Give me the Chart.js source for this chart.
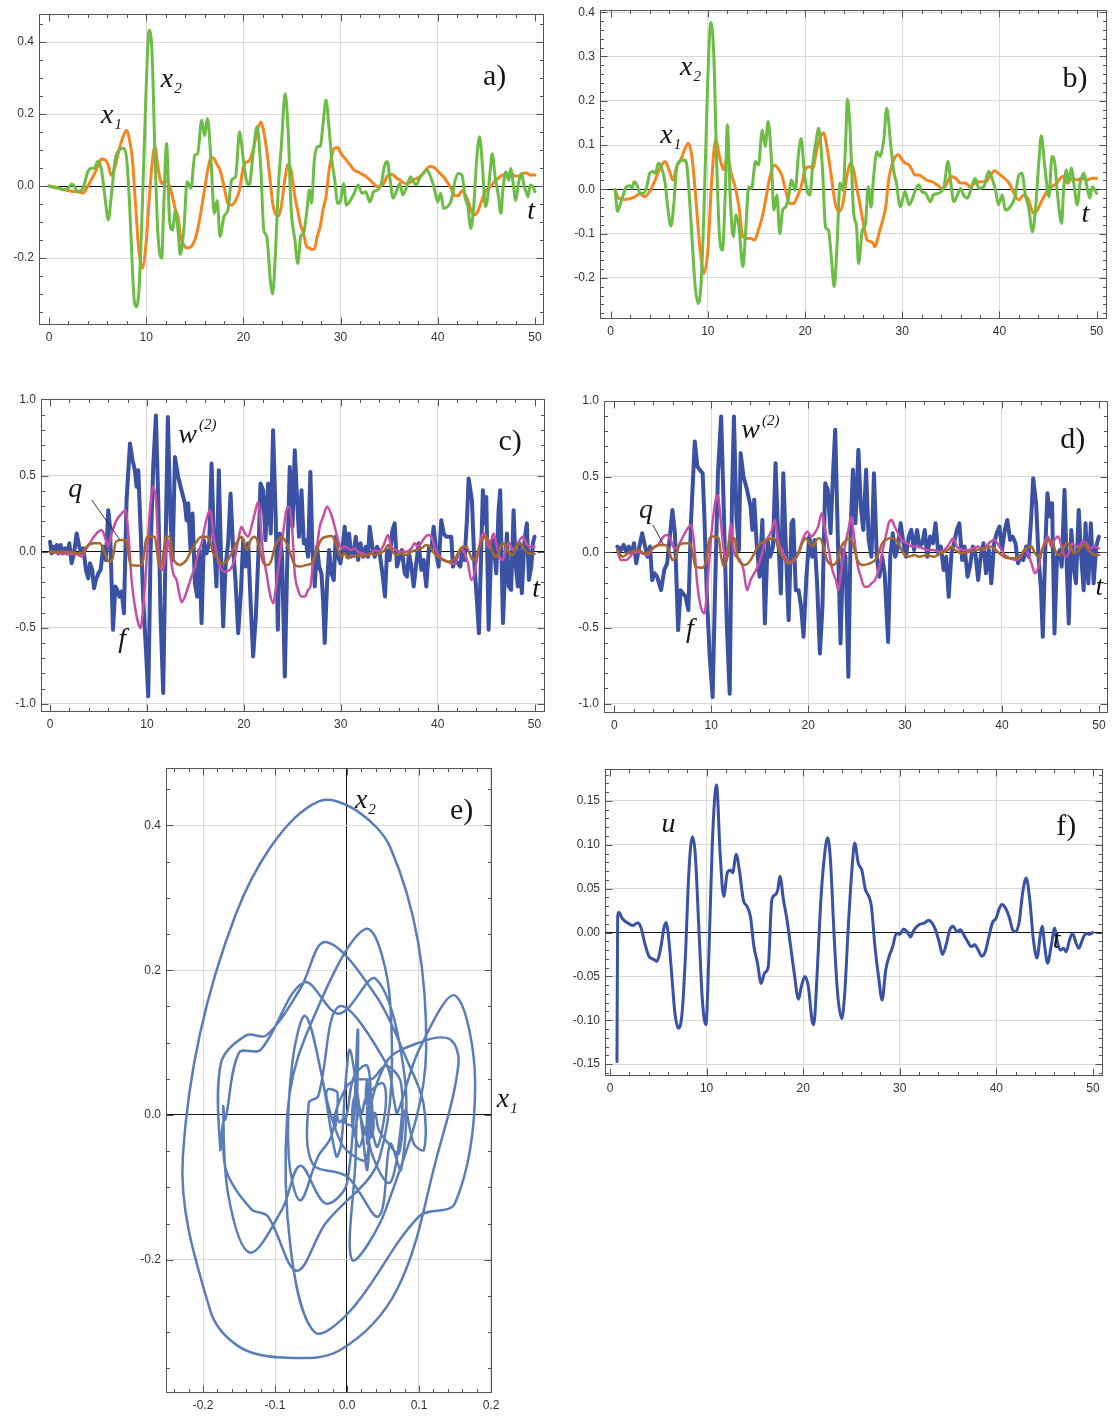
<!DOCTYPE html>
<html><head><meta charset="utf-8">
<script src="https://cdn.jsdelivr.net/npm/chart.js@4.4.0/dist/chart.umd.min.js"></script>
<style>
html,body{margin:0;padding:0;background:#fff;}
body{width:1118px;height:1416px;position:relative;overflow:hidden;}
.p{position:absolute;}
</style></head><body>
<div class="p" id="pa"></div><div class="p" id="pb"></div>
<div class="p" id="pc"></div><div class="p" id="pd"></div>
<div class="p" id="pe"></div><div class="p" id="pf"></div>
<script>
// ---------- DATA ----------
// Panel a (also used for phase portrait e): common time grid
const tA = [0,0.5,1,1.5,2,2.3,2.5,3,3.5,4,
 4.3,4.7,5,5.4,5.8,6.1,6.4,6.8,7.2,7.7,
 8.0,8.3,8.6,8.8,9.0,9.15,9.3,9.6,10.0,10.3,10.6,10.9,
 11.2,11.6,11.8,12.1,12.4,12.7,13.0,13.3,13.5,13.9,
 14.2,14.6,15.0,15.3,15.7,16.0,16.3,16.7,17.0,17.3,
 17.6,18.0,18.4,18.8,19.2,19.6,20.0,20.3,20.6,21.0,
 21.4,21.8,22.1,22.4,22.8,23.0,23.3,23.6,23.9,24.3,
 24.6,24.9,25.3,25.6,25.9,26.2,26.5,26.8,27.0,27.3,
 27.6,27.9,28.2,28.5,28.8,29.1,29.4,29.7,30.0,30.3,
 30.6,31.0,31.4,31.8,32.2,32.6,33.0,33.4,33.8,34.2,
 34.5,34.8,35.1,35.4,35.8,36.1,36.4,36.8,37.2,37.5,
 37.8,38.1,38.5,38.9,39.2,39.6,40.0,40.3,40.6,41.0,
 41.4,41.8,42.1,42.5,42.8,43.1,43.4,43.7,44.0,44.3,
 44.6,44.9,45.1,45.4,45.6,45.9,46.2,46.5,46.7,47.0,
 47.3,47.5,47.8,48.0,48.3,48.6,48.9,49.1,49.3,49.5,
 49.8,50];
const x2A = [0,-0.004,-0.006,-0.01,-0.005,0.005,0.003,-0.016,-0.006,0.04,
 0.049,0.05,0.068,0.044,-0.04,-0.094,-0.03,0.072,0.1,0.105,
 0.072,-0.057,-0.24,-0.325,-0.335,-0.32,-0.27,-0.057,0.276,0.433,0.37,0.09,
 -0.13,-0.2,-0.057,0.118,-0.094,-0.122,-0.07,-0.13,-0.19,-0.11,
 0.012,-0.006,0.086,0.09,0.183,0.14,0.188,0.054,-0.076,-0.04,
 -0.14,-0.085,-0.067,0.017,0.026,0.15,0.072,0.017,0.003,0.09,
 0.165,0.044,-0.122,-0.14,-0.27,-0.3,-0.187,0,0.11,0.257,
 0.155,-0.06,-0.15,-0.215,-0.14,-0.13,-0.076,-0.011,-0.048,0.072,
 0.11,0.11,0.174,0.239,0.165,0.072,0.017,-0.048,-0.04,0.007,
 -0.053,-0.04,-0.02,0.003,-0.02,-0.016,-0.044,-0.016,-0.011,0.007,
 0.054,0.068,0.017,-0.034,-0.011,0.007,-0.025,-0.002,0.026,0.012,
 0.003,0.021,0.035,0.044,0.03,-0.002,-0.044,-0.02,-0.062,-0.057,
 -0.039,0.017,0.035,0.03,-0.03,-0.057,-0.118,-0.057,0.072,0.137,
 0.054,-0.057,-0.039,0.044,0.09,0.026,-0.02,-0.076,-0.011,0.04,
 0.016,0.049,-0.002,-0.04,0.007,0.035,-0.002,-0.016,-0.03,0.003,
 -0.002,-0.016];
const x1A = [0,-0.002,-0.006,-0.01,-0.013,-0.014,-0.015,-0.016,-0.019,0,
 0.015,0.035,0.054,0.075,0.072,0.058,0.03,0.054,0.1,0.142,
 0.155,0.125,0.07,-0.01,-0.09,-0.15,-0.19,-0.228,-0.155,-0.04,0.06,0.11,
 0.054,0.007,0.012,0.015,0,-0.03,-0.065,-0.09,-0.135,-0.165,
 -0.172,-0.169,-0.15,-0.12,-0.06,-0.011,0.04,0.08,0.075,0.06,
 0.044,0,-0.048,-0.053,-0.04,-0.011,0.054,0.066,0.07,0.1,
 0.15,0.178,0.15,0.1,0.005,-0.045,-0.078,-0.083,-0.057,0.026,
 0.06,0.045,-0.03,-0.07,-0.11,-0.133,-0.168,-0.172,-0.176,-0.175,
 -0.14,-0.112,-0.065,-0.03,0.04,0.085,0.106,0.107,0.093,0.081,
 0.072,0.058,0.044,0.039,0.033,0.027,0.017,0.007,-0.002,0.001,
 0.01,0.028,0.033,0.031,0.021,0.017,0.01,0.007,0.011,0.017,
 0.021,0.025,0.035,0.049,0.054,0.052,0.042,0.033,0.026,0.01,
 -0.008,-0.027,-0.027,-0.013,-0.022,-0.04,-0.065,-0.081,-0.076,-0.058,
 -0.035,-0.015,-0.008,-0.002,0.004,0.015,0.021,0.028,0.031,0.027,
 0.026,0.028,0.031,0.028,0.028,0.032,0.036,0.037,0.034,0.031,
 0.031,0.031];

// Panel b: [t, value]
const x2B = [[0.45,0],[0.7,-0.05],[1.0,-0.032],[1.3,-0.013],[1.6,0.006],[2.0,0.008],[2.2,0.002],[2.4,0.017],[2.7,0.01],[3.0,-0.008],[3.4,-0.009],[3.8,0.014],[4.0,0.036],[4.3,0.04],[4.6,0.036],[4.9,0.059],[5.2,0.051],[5.6,0.014],[5.9,-0.047],[6.2,-0.083],[6.5,-0.032],[6.8,0.051],[7.2,0.065],[7.6,0.066],[7.8,0.059],[8.1,-0.017],[8.4,-0.122],[8.7,-0.22],[9.0,-0.258],[9.3,-0.213],[9.6,-0.047],[10.0,0.255],[10.3,0.377],[10.6,0.308],[10.9,0.066],[11.2,-0.107],[11.5,-0.137],[11.8,-0.002],[12.0,0.146],[12.3,-0.017],[12.6,-0.107],[12.9,-0.058],[13.2,-0.085],[13.6,-0.175],[13.9,-0.09],[14.2,0.006],[14.5,0.002],[14.9,0.063],[15.2,0.055],[15.6,0.134],[15.9,0.097],[16.2,0.153],[16.5,0.082],[16.8,-0.047],[17.1,-0.013],[17.4,-0.1],[17.7,-0.047],[18.0,-0.04],[18.3,-0.017],[18.6,0.021],[19.0,-0.002],[19.3,0.074],[19.6,0.115],[19.9,0.044],[20.2,-0.002],[20.5,-0.013],[20.8,0.059],[21.1,0.104],[21.4,0.138],[21.8,0.044],[22.1,-0.085],[22.4,-0.092],[22.7,-0.152],[23.0,-0.22],[23.3,-0.122],[23.6,0.014],[23.9,-0.002],[24.2,0.119],[24.35,0.204],[24.6,0.15],[25.0,-0.054],[25.3,-0.085],[25.5,-0.168],[25.9,-0.092],[26.2,-0.08],[26.5,0.006],[26.8,-0.04],[27.0,0.014],[27.4,0.085],[27.7,0.074],[28.1,0.112],[28.4,0.183],[28.8,0.104],[29.1,0.044],[29.4,0.014],[29.8,-0.04],[30.1,-0.017],[30.3,-0.005],[30.7,-0.035],[31.0,-0.024],[31.3,-0.005],[31.7,0.01],[32.0,-0.005],[32.4,-0.009],[32.9,-0.028],[33.2,-0.013],[33.7,-0.009],[34.3,0.006],[34.7,0.063],[35.0,0.014],[35.3,-0.028],[35.6,-0.017],[36.0,0.002],[36.3,-0.013],[36.7,-0.02],[37.0,-0.005],[37.5,0.025],[37.9,0.002],[38.4,0.006],[38.9,0.04],[39.3,0.021],[39.6,-0.002],[39.9,-0.035],[40.3,-0.013],[40.6,-0.047],[41.1,-0.04],[41.6,-0.017],[42.0,0.032],[42.3,0.036],[42.7,-0.017],[43.0,-0.04],[43.4,-0.096],[43.7,-0.047],[44.1,0.074],[44.3,0.121],[44.7,0.044],[45.1,-0.017],[45.4,0.074],[45.7,0.059],[46.0,-0.017],[46.4,-0.077],[46.6,-0.002],[46.9,0.044],[47.1,0.014],[47.4,0.048],[47.7,0.006],[48.0,-0.035],[48.3,0.014],[48.7,0.036],[49.0,0.006],[49.3,-0.02],[49.55,0.006],[49.9,-0.005],[50.0,-0.009]];
const x1B = [[0.45,0],[0.8,-0.02],[1.5,-0.023],[2.5,-0.017],[3.0,-0.01],[3.5,-0.017],[4.0,-0.005],[4.5,0.017],[5.0,0.044],[5.6,0.063],[6.0,0.044],[6.4,0.021],[6.8,0.051],[7.2,0.066],[7.6,0.089],[8.0,0.104],[8.4,0.066],[8.8,-0.032],[9.2,-0.137],[9.6,-0.19],[10.0,-0.137],[10.4,0.021],[10.8,0.112],[11.2,0.074],[11.6,0.044],[12.0,0.074],[12.4,0.036],[12.8,0.006],[13.2,-0.04],[13.6,-0.107],[14.0,-0.111],[14.4,-0.111],[14.8,-0.115],[15.2,-0.092],[15.6,-0.062],[16.0,-0.017],[16.4,0.029],[16.8,0.055],[17.2,0.048],[17.6,0.032],[18.0,-0.002],[18.4,-0.032],[18.8,-0.032],[19.2,-0.017],[19.6,0.006],[20.0,0.044],[20.4,0.051],[20.8,0.048],[21.2,0.089],[21.6,0.119],[21.9,0.127],[22.3,0.089],[22.7,0.029],[23.1,-0.032],[23.5,-0.05],[23.9,-0.032],[24.3,0.029],[24.7,0.059],[25.0,0.044],[25.3,0.006],[25.7,-0.04],[26.0,-0.077],[26.4,-0.115],[26.7,-0.118],[27.0,-0.122],[27.2,-0.13],[27.6,-0.1],[27.9,-0.077],[28.3,-0.04],[28.6,0.021],[29.0,0.059],[29.3,0.074],[29.6,0.078],[30.0,0.066],[30.3,0.059],[30.7,0.055],[31.0,0.044],[31.3,0.032],[31.7,0.032],[32.0,0.029],[32.5,0.021],[33.1,0.017],[33.6,0.01],[34.1,0.002],[34.4,0.006],[35.0,0.029],[35.5,0.025],[36.0,0.014],[36.5,0.014],[37.0,0.006],[37.5,0.014],[38.0,0.017],[38.6,0.017],[39.1,0.032],[39.5,0.042],[39.9,0.036],[40.5,0.025],[41.0,0.014],[41.5,-0.009],[42.0,-0.024],[42.5,-0.013],[43.0,-0.024],[43.5,-0.054],[43.9,-0.047],[44.4,-0.024],[44.9,-0.005],[45.4,0.006],[45.9,0.014],[46.5,0.029],[47.0,0.014],[47.5,0.025],[48.0,0.021],[48.5,0.025],[49.0,0.021],[49.55,0.025],[50.0,0.025]];

// Panel c: w^(2), f, q  as [t, value]
const wC = [[0,0.066],[0.17,-0.011],[0.34,0.033],[0.52,0],[0.69,0.044],[0.86,-0.011],[1.1,0.044],[1.31,-0.011],[1.55,0.022],[1.79,-0.011],[1.99,0.055],[2.23,-0.076],[2.47,-0.011],[2.75,0.12],[3.02,0.033],[3.26,-0.011],[3.44,0.022],[3.71,-0.12],[3.95,-0.175],[4.12,-0.076],[4.36,-0.12],[4.54,-0.24],[4.74,-0.186],[4.98,-0.142],[5.22,-0.12],[5.5,0.033],[5.77,-0.055],[6.01,0.273],[6.19,0.164],[6.5,-0.513],[6.74,-0.229],[6.94,-0.251],[7.15,-0.295],[7.39,-0.262],[7.63,-0.404],[7.9,0.338],[8.25,0.71],[8.52,0.6],[8.76,0.535],[8.93,0.426],[9.11,0.535],[9.35,0.142],[9.62,-0.317],[9.9,-0.644],[10.14,-0.95],[10.38,0.011],[10.65,0.557],[10.93,0.895],[11.17,0.338],[11.41,-0.426],[11.68,-0.928],[11.92,0.011],[12.16,0.884],[12.44,0.207],[12.65,-0.055],[12.89,0.622],[13.23,0.491],[13.57,0.404],[13.92,0.317],[14.09,0.207],[14.26,0.317],[14.5,0.011],[14.71,0.251],[14.95,-0.207],[15.19,-0.295],[15.4,0.011],[15.64,-0.469],[15.88,0.076],[16.15,-0.011],[16.43,0.055],[16.67,0.579],[16.91,0.076],[17.18,-0.229],[17.42,0.535],[17.63,0.011],[17.87,-0.491],[18.11,-0.098],[18.38,0.055],[18.63,0.382],[18.9,0.011],[19.14,-0.186],[19.42,-0.535],[19.69,-0.273],[19.93,0.076],[20.17,-0.098],[20.45,0.055],[20.69,-0.317],[20.96,-0.688],[21.24,-0.426],[21.48,-0.055],[21.72,0.448],[21.99,0.404],[22.23,0.076],[22.51,0.448],[22.78,0.12],[23.02,0.797],[23.3,0.207],[23.51,-0.513],[23.71,0.12],[23.95,-0.033],[24.23,-0.819],[24.47,-0.098],[24.74,0.557],[25.02,0.164],[25.26,0.666],[25.5,0.338],[25.7,0.098],[25.95,0.404],[26.19,0.055],[26.39,0.076],[26.63,-0.033],[26.87,0.524],[27.08,0.011],[27.32,-0.229],[27.56,0.033],[27.77,-0.098],[28.01,-0.142],[28.18,-0.317],[28.35,-0.6],[28.59,-0.207],[28.8,0.011],[29.04,-0.142],[29.28,-0.186],[29.48,0.098],[29.73,-0.033],[29.97,-0.076],[30.17,0.011],[30.41,0.164],[30.65,-0.033],[30.86,0.12],[31.1,-0.033],[31.34,-0.011],[31.55,0.098],[31.79,-0.055],[32.03,0.055],[32.3,-0.033],[32.58,0.033],[32.82,-0.033],[32.99,0.164],[33.26,0.033],[33.51,-0.033],[33.75,0.033],[34.02,-0.011],[34.3,-0.142],[34.57,-0.295],[34.78,0.011],[35.05,-0.055],[35.33,0.142],[35.57,0.186],[35.81,-0.098],[36.08,-0.033],[36.32,0.011],[36.6,-0.142],[36.84,-0.164],[37.04,-0.011],[37.29,-0.098],[37.53,-0.229],[37.8,-0.076],[38.04,0.055],[38.32,-0.12],[38.56,-0.055],[38.83,-0.229],[39.11,0.033],[39.35,0.011],[39.59,0.164],[39.86,-0.011],[40.1,-0.098],[40.38,0.207],[40.62,0.12],[40.89,0.098],[41.17,0.098],[41.41,0.098],[41.58,-0.098],[41.82,-0.055],[42.1,-0.076],[42.34,-0.098],[42.54,0.011],[42.78,-0.055],[43.02,0.207],[43.2,0.48],[43.54,0.338],[43.81,-0.098],[44.05,-0.317],[44.26,-0.535],[44.5,0.011],[44.67,0.404],[44.85,0.186],[45.02,0.36],[45.26,-0.513],[45.53,0.011],[45.77,0.076],[46.05,-0.142],[46.29,0.273],[46.46,0.404],[46.74,-0.469],[46.98,-0.098],[47.15,0.12],[47.35,-0.229],[47.59,-0.251],[47.84,0.273],[48.04,-0.076],[48.28,-0.229],[48.45,0.055],[48.69,-0.273],[48.97,0.076],[49.21,0.186],[49.42,-0.186],[49.66,-0.098],[49.83,0.055],[50,0.098]];
const fC = [[0,0],[1.03,-0.011],[2.06,-0.015],[2.75,-0.017],[3.26,-0.033],[3.78,0.022],[4.3,0.076],[4.81,0.12],[5.33,0.142],[5.77,0.076],[6.01,0.033],[6.36,0.12],[6.87,0.207],[7.39,0.251],[7.8,0.273],[8.08,0.12],[8.42,-0.186],[8.76,-0.36],[9.11,-0.469],[9.35,-0.502],[9.62,-0.36],[9.97,-0.055],[10.31,0.273],[10.65,0.426],[10.93,0.338],[11.27,-0.055],[11.62,-0.12],[11.96,-0.011],[12.2,0.076],[12.44,-0.033],[12.71,-0.142],[13.06,-0.186],[13.33,-0.273],[13.57,-0.33],[13.92,-0.295],[14.26,-0.229],[14.6,-0.164],[14.95,-0.098],[15.29,-0.011],[15.64,0.055],[15.98,0.164],[16.32,0.251],[16.56,0.273],[16.84,0.12],[17.18,-0.011],[17.53,-0.098],[18.04,-0.131],[18.56,-0.12],[19.07,-0.044],[19.42,0.076],[19.76,0.164],[20.03,0.131],[20.45,0.098],[20.79,0.164],[21.13,0.251],[21.48,0.327],[21.75,0.164],[21.99,-0.011],[22.34,-0.142],[22.68,-0.273],[23.02,-0.338],[23.37,-0.207],[23.71,-0.033],[24.05,0.12],[24.4,0.273],[24.67,0.295],[25.02,0.12],[25.26,-0.142],[25.6,-0.251],[25.95,-0.295],[26.29,-0.295],[26.63,-0.251],[26.87,-0.229],[27.15,-0.076],[27.49,0.011],[27.84,0.164],[28.18,0.229],[28.59,0.295],[29.04,0.24],[29.38,0.164],[29.73,0.076],[30.07,0.022],[30.41,0.033],[30.76,0.022],[31.1,0.011],[31.44,0.022],[31.79,0],[32.3,-0.011],[32.82,-0.022],[33.16,-0.011],[33.51,0.011],[33.85,0],[34.36,0.033],[34.88,0.109],[35.22,0.033],[35.74,0.011],[36.25,0],[36.77,0],[37.29,0.022],[37.63,0.055],[37.97,0.033],[38.49,0.076],[39.0,0.109],[39.35,0.098],[39.69,0.033],[40.21,-0.033],[40.72,-0.055],[41.24,-0.072],[41.75,-0.081],[42.1,-0.033],[42.44,0.022],[42.78,-0.011],[43.13,-0.076],[43.47,-0.186],[43.81,-0.142],[44.16,-0.011],[44.5,0.098],[44.85,0.12],[45.19,0.033],[45.53,0.076],[45.77,0.12],[46.05,0.055],[46.39,-0.033],[46.74,-0.055],[47.08,0.033],[47.42,0.055],[47.77,0.011],[48.11,0.033],[48.45,0.076],[48.8,0.098],[49.14,0.055],[49.48,0.033],[50,0.033]];
const qC = [[0,0],[2.06,0],[2.75,-0.011],[3.26,-0.011],[3.78,0.033],[4.47,0.055],[5.15,0.055],[5.67,-0.011],[6.12,-0.066],[6.46,-0.044],[6.8,0.066],[7.39,0.076],[7.84,0.076],[8.08,-0.011],[8.32,-0.087],[9.28,-0.092],[9.62,-0.055],[9.9,0.076],[10.14,0.098],[10.82,0.098],[11.07,-0.011],[11.27,-0.098],[11.51,-0.098],[11.75,0.011],[11.96,0.098],[12.37,0.098],[12.65,-0.033],[12.89,-0.066],[13.4,-0.087],[13.75,-0.076],[14.09,-0.055],[14.43,-0.011],[14.71,0.022],[15.12,0.066],[15.64,0.098],[16.15,0.098],[16.49,0.076],[16.84,-0.011],[17.18,-0.033],[17.7,-0.076],[18.21,-0.066],[18.73,-0.011],[19.07,0.033],[19.42,0.076],[19.76,0.098],[20.0,0.066],[20.34,0.011],[20.69,0.076],[21.13,0.098],[21.48,0.055],[21.82,-0.033],[22.06,-0.076],[22.51,-0.087],[22.85,-0.055],[23.2,0.033],[23.54,0.076],[23.88,0.098],[24.23,0.076],[24.57,0.033],[24.91,-0.033],[25.26,-0.087],[25.77,-0.098],[26.46,-0.087],[26.98,-0.076],[27.32,-0.033],[27.66,0.033],[28.01,0.081],[28.52,0.098],[29.04,0.103],[29.38,0.076],[29.73,0.011],[30.07,-0.033],[30.41,-0.011],[30.76,-0.044],[31.1,-0.022],[31.44,-0.033],[31.96,-0.022],[32.47,-0.033],[32.99,-0.011],[33.51,-0.022],[34.02,-0.011],[34.54,0.011],[34.88,0.044],[35.22,0.011],[35.74,-0.022],[36.25,-0.011],[36.77,-0.022],[37.29,0],[37.8,0.011],[38.32,0.022],[38.83,0.044],[39.18,0.033],[39.52,0],[40.03,-0.033],[40.55,-0.055],[41.07,-0.066],[41.58,-0.055],[41.92,-0.033],[42.27,0.011],[42.61,0.033],[42.96,0.033],[43.3,-0.011],[43.64,-0.055],[43.99,-0.033],[44.33,0.033],[44.67,0.087],[45.02,0.098],[45.36,0.055],[45.7,-0.011],[46.05,-0.033],[46.39,0.011],[46.74,0.055],[47.08,0.033],[47.42,-0.011],[47.77,-0.022],[48.11,0.033],[48.45,0.055],[48.8,0.033],[49.14,0],[49.48,-0.011],[50,-0.015]];

// Panel d
const wD = [[0.3,0.038],[0.67,0.015],[0.96,0.049],[1.22,0.004],[1.48,0.038],[1.77,-0.007],[2.03,0.06],[2.25,-0.073],[2.58,0.038],[2.87,0.126],[3.17,0.038],[3.42,-0.029],[3.68,0.038],[3.9,-0.183],[4.16,-0.139],[4.41,-0.161],[4.82,-0.25],[5.15,-0.117],[5.44,-0.073],[5.73,0.104],[5.99,0.28],[6.25,0.126],[6.58,-0.514],[6.83,-0.25],[7.09,-0.272],[7.35,-0.294],[7.64,-0.382],[7.9,0.192],[8.3,0.733],[8.56,0.567],[8.82,0.545],[9.11,0.523],[9.29,0.236],[9.55,-0.294],[9.84,-0.691],[10.14,-0.956],[10.39,-0.25],[10.69,0.523],[11.02,0.898],[11.31,0.236],[11.6,-0.47],[11.9,-0.934],[12.15,0.413],[12.34,0.898],[12.59,0.236],[12.85,0.015],[13.03,0.656],[13.32,0.501],[13.69,0.413],[14.06,0.302],[14.24,0.148],[14.43,0.347],[14.68,0.06],[14.98,-0.161],[15.27,0.214],[15.53,-0.47],[15.82,0.082],[16.08,-0.029],[16.37,0.038],[16.63,0.589],[16.92,0.082],[17.18,-0.272],[17.43,0.523],[17.73,-0.029],[17.98,-0.448],[18.28,0.192],[18.46,0.214],[18.72,-0.25],[19.01,-0.25],[19.27,-0.36],[19.52,-0.558],[19.82,-0.161],[20.11,0.104],[20.4,-0.029],[20.66,0.082],[20.92,-0.205],[21.21,-0.669],[21.47,-0.36],[21.76,0.457],[22.02,0.413],[22.31,0.126],[22.57,0.523],[22.79,0.81],[23.05,0.126],[23.34,-0.603],[23.6,0.015],[23.85,-0.029],[24.15,-0.823],[24.4,0.192],[24.62,0.545],[24.88,0.192],[25.18,0.678],[25.43,0.302],[25.69,0.148],[25.98,0.545],[26.24,0.082],[26.53,-0.029],[26.79,0.523],[27.08,-0.029],[27.34,-0.161],[27.63,-0.029],[27.89,-0.139],[28.25,-0.592],[28.47,-0.029],[28.73,0.126],[28.99,-0.029],[29.28,0.038],[29.54,0.192],[29.83,0.06],[30.09,-0.029],[30.38,0.104],[30.64,0.148],[30.93,0.015],[31.23,0.148],[31.49,0.038],[31.78,0.06],[32.03,0.148],[32.29,-0.029],[32.58,0.104],[32.88,0.06],[33.14,0.192],[33.43,-0.007],[33.69,0.038],[33.98,-0.117],[34.24,-0.029],[34.5,-0.294],[34.79,-0.007],[35.05,0.06],[35.34,0.148],[35.6,0.192],[35.89,-0.051],[36.14,0.038],[36.44,-0.161],[36.69,-0.095],[36.99,0.038],[37.25,-0.007],[37.54,-0.183],[37.8,-0.029],[38.09,0.06],[38.35,-0.139],[38.64,0.015],[38.9,-0.205],[39.19,0.06],[39.45,0.126],[39.74,0.17],[40.0,0.015],[40.29,0.148],[40.55,0.214],[40.84,0.082],[41.1,0.104],[41.39,0.06],[41.65,-0.073],[41.94,-0.029],[42.2,-0.051],[42.49,0.038],[42.75,-0.029],[43.04,0.258],[43.22,0.49],[43.52,0.325],[43.77,-0.029],[44.03,-0.25],[44.21,-0.558],[44.5,0.082],[44.69,0.391],[44.95,0.236],[45.17,0.325],[45.42,-0.536],[45.68,-0.029],[45.97,0.015],[46.16,-0.095],[46.45,0.413],[46.71,-0.139],[46.89,-0.47],[47.15,0.148],[47.44,-0.117],[47.63,-0.205],[47.92,0.28],[48.18,-0.029],[48.43,-0.25],[48.62,0.192],[48.91,-0.205],[49.17,0.192],[49.46,-0.205],[49.72,0.038],[50.0,0.104]];
const fD = [[0.3,0.015],[0.67,-0.051],[1.22,-0.051],[1.77,-0.018],[2.32,0.004],[2.87,-0.007],[3.42,-0.018],[3.97,0.026],[4.52,0.049],[5.07,0.104],[5.44,0.115],[5.81,0.082],[6.17,0.026],[6.54,0.038],[7.09,0.104],[7.57,0.159],[7.93,0.181],[8.19,0.082],[8.55,-0.205],[8.92,-0.36],[9.29,-0.404],[9.66,-0.161],[10.02,0.126],[10.39,0.325],[10.65,0.38],[10.94,0.236],[11.24,0.038],[11.49,-0.051],[11.75,0.038],[12.04,0.192],[12.3,0.015],[12.59,-0.029],[12.96,-0.051],[13.33,-0.117],[13.69,-0.25],[14.06,-0.183],[14.43,-0.139],[14.79,-0.095],[15.16,-0.029],[15.53,0.06],[15.9,0.104],[16.26,0.148],[16.56,0.214],[16.88,0.082],[17.25,0.015],[17.62,-0.029],[18.1,-0.073],[18.46,-0.062],[18.83,-0.029],[19.19,0.038],[19.56,0.104],[19.93,0.137],[20.3,0.104],[20.66,0.126],[21.03,0.17],[21.4,0.258],[21.76,0.148],[22.13,0.015],[22.5,-0.117],[22.86,-0.183],[23.12,-0.25],[23.42,-0.117],[23.78,0.038],[24.15,0.148],[24.44,0.236],[24.7,0.126],[25.07,-0.073],[25.43,-0.161],[25.8,-0.227],[26.16,-0.227],[26.53,-0.205],[26.9,-0.183],[27.27,-0.117],[27.63,-0.007],[28.0,0.104],[28.37,0.203],[28.63,0.214],[28.92,0.17],[29.28,0.126],[29.65,0.082],[30.2,0.06],[30.75,0.038],[31.3,0.038],[31.85,0.026],[32.4,0.015],[32.96,0.015],[33.5,0.004],[34.05,0.015],[34.6,0.06],[34.97,0.093],[35.34,0.038],[35.89,0.015],[36.44,0.015],[36.99,0.026],[37.54,0.038],[38.09,0.015],[38.64,0.06],[39.19,0.082],[39.74,0.038],[40.29,-0.018],[40.84,-0.04],[41.39,-0.051],[41.94,-0.029],[42.31,0.015],[42.67,-0.007],[43.04,-0.073],[43.41,-0.139],[43.77,-0.095],[44.14,0.015],[44.51,0.082],[44.76,0.104],[45.06,0.038],[45.42,0.082],[45.79,0.104],[46.16,0.038],[46.52,-0.029],[46.89,-0.007],[47.26,0.06],[47.62,0.038],[47.99,0.038],[48.36,0.071],[48.72,0.06],[49.09,0.026],[49.46,0.038],[50.0,0.026]];
const qD = [[0.3,0.015],[0.85,-0.029],[1.4,-0.007],[1.96,0.009],[2.51,0.015],[3.06,-0.007],[3.61,0.004],[4.16,0.038],[4.71,0.049],[5.26,0.049],[5.62,0.015],[5.99,-0.051],[6.36,-0.029],[6.72,0.049],[7.27,0.06],[7.82,0.06],[8.08,-0.007],[8.37,-0.095],[9.11,-0.102],[9.48,-0.051],[9.84,0.093],[10.21,0.104],[10.76,0.093],[11.02,-0.029],[11.31,-0.095],[11.68,-0.029],[11.97,0.093],[12.41,0.093],[12.7,-0.029],[13.07,-0.073],[13.51,-0.084],[14.06,-0.051],[14.43,-0.007],[14.79,0.038],[15.16,0.06],[15.71,0.082],[16.26,0.093],[16.63,0.082],[17.0,0.015],[17.36,-0.029],[17.91,-0.073],[18.46,-0.051],[19.01,-0.007],[19.38,0.06],[19.75,0.093],[20.11,0.06],[20.48,0.038],[20.85,0.082],[21.21,0.093],[21.58,0.038],[21.95,-0.051],[22.5,-0.084],[23.05,-0.051],[23.42,0.038],[23.97,0.082],[24.33,0.093],[24.7,0.038],[25.07,-0.051],[25.62,-0.084],[26.35,-0.073],[26.9,-0.051],[27.27,-0.007],[27.63,0.06],[28.0,0.082],[28.55,0.093],[29.1,0.082],[29.47,0.038],[29.83,-0.007],[30.38,-0.029],[30.93,-0.018],[31.48,-0.029],[32.22,-0.018],[32.95,-0.029],[33.69,-0.007],[34.42,0.015],[34.79,0.038],[35.15,0.015],[35.89,-0.007],[36.62,0.004],[37.35,0.015],[38.09,0.026],[38.82,0.038],[39.37,0.015],[39.92,-0.018],[40.65,-0.04],[41.39,-0.04],[41.94,-0.018],[42.49,0.026],[43.04,0.038],[43.41,-0.007],[43.77,-0.029],[44.14,0.015],[44.5,0.06],[44.87,0.082],[45.24,0.06],[45.61,-0.007],[45.97,-0.018],[46.34,0.026],[46.71,0.06],[47.08,0.038],[47.44,-0.007],[47.81,0.004],[48.18,0.038],[48.55,0.049],[48.91,0.015],[49.28,-0.007],[49.65,-0.018],[50.0,-0.018]];

// Panel f: u
const uF = [[0.72,-0.147],[0.79,0.018],[0.9,0.023],[1.27,0.016],[1.82,0.011],[2.38,0.008],[2.86,0.011],[3.22,0.005],[3.59,-0.012],[4.03,-0.027],[4.59,-0.031],[4.85,-0.033],[5.21,-0.02],[5.62,0.007],[5.8,0.011],[6.06,-0.005],[6.43,-0.054],[6.72,-0.092],[7.09,-0.109],[7.46,-0.092],[7.79,-0.031],[8.16,0.068],[8.53,0.109],[8.82,0.09],[9.19,0.007],[9.56,-0.077],[9.93,-0.105],[10.22,-0.031],[10.59,0.102],[11.03,0.168],[11.4,0.09],[11.77,0.041],[12.14,0.068],[12.44,0.071],[12.69,0.068],[13.06,0.089],[13.43,0.068],[13.8,0.037],[14.17,0.03],[14.54,0.018],[14.9,-0.016],[15.27,-0.035],[15.64,-0.058],[16.01,-0.046],[16.38,-0.039],[16.75,0.037],[17.12,0.043],[17.37,0.049],[17.59,0.064],[17.96,0.037],[18.33,0.014],[18.7,-0.016],[19.07,-0.046],[19.51,-0.076],[19.8,-0.062],[20.17,-0.05],[20.54,-0.062],[20.91,-0.1],[21.09,-0.105],[21.43,-0.05],[21.79,0.03],[22.16,0.083],[22.53,0.108],[22.82,0.083],[23.19,-0.001],[23.56,-0.069],[24.0,-0.098],[24.3,-0.069],[24.67,0.007],[25.04,0.071],[25.33,0.102],[25.7,0.079],[26.07,0.071],[26.44,0.049],[26.8,0.041],[27.06,0.03],[27.43,-0.016],[27.8,-0.05],[28.17,-0.077],[28.54,-0.043],[28.9,-0.027],[29.27,-0.016],[29.64,-0.001],[30.01,-0.002],[30.38,0.004],[30.75,0.001],[31.12,-0.005],[31.48,0.003],[32.03,0.009],[32.59,0.011],[32.96,0.014],[33.33,0.011],[33.7,0.003],[34.06,-0.01],[34.43,-0.025],[34.8,-0.014],[35.17,0.003],[35.54,0.007],[35.9,0.001],[36.27,0.003],[36.64,-0.003],[37.01,-0.01],[37.38,-0.016],[37.75,-0.014],[38.12,-0.02],[38.49,-0.027],[38.85,-0.022],[39.22,-0.005],[39.59,0.011],[39.96,0.016],[40.33,0.028],[40.58,0.032],[40.95,0.028],[41.32,0.018],[41.69,0.003],[41.99,0.001],[42.35,0.011],[42.72,0.045],[43.09,0.062],[43.46,0.037],[43.83,-0.008],[44.2,-0.029],[44.57,-0.001],[44.75,0.007],[45.01,-0.016],[45.3,-0.035],[45.67,-0.016],[46.04,0.005],[46.3,-0.01],[46.59,-0.02],[46.96,-0.018],[47.22,-0.022],[47.59,-0.008],[47.88,-0.001],[48.25,-0.012],[48.55,-0.018],[48.91,-0.008],[49.28,-0.001],[49.65,-0.002],[49.98,0]];

// tick labels
const timeTicks = [0,10,20,30,40,50];

// ---------- LAYOUT / STYLE ----------
const FR = {
 a:{L:39,T:14,R:544,B:325,x:[-1.03,50.93],y:[-0.386,0.478]},
 b:{L:600,T:10,R:1107,B:319,x:[-1.1,51.07],y:[-0.293,0.405]},
 c:{L:41,T:399,R:545,B:712,x:[-0.93,51.08],y:[-1.053,1.003]},
 d:{L:604,T:401,R:1108,B:713,x:[-1.07,50.94],y:[-1.062,1.0]},
 e:{L:166,T:768,R:492,B:1393,x:[-0.2514,0.2014],y:[-0.384,0.4793]},
 f:{L:605,T:769,R:1103,B:1076,x:[-0.52,51.04],y:[-0.1635,0.1863]}
};
const COL = {orange:'#f6841f', green:'#6cbd45', w:'#3a51a4', f:'#c64fa6', q:'#a4682c', e:'#5b7db7', u:'#3a52a5'};

const framePlugin = {
  id:'frameDeco',
  afterDraw(chart, args, o){
    const ctx = chart.ctx, a = chart.chartArea, x = chart.scales.x, y = chart.scales.y;
    ctx.save();
    ctx.strokeStyle = '#555'; ctx.lineWidth = 1;
    const L = Math.round(a.left)+0.5, T = Math.round(a.top)+0.5, R = Math.round(a.right)-0.5, B = Math.round(a.bottom)-0.5;
    ctx.strokeRect(L, T, R-L, B-T);
    const tk = (scale, step, len, hor) => {
      const i0 = Math.ceil(scale.min/step - 1e-6), i1 = Math.floor(scale.max/step + 1e-6);
      ctx.beginPath();
      for (let i=i0;i<=i1;i++){
        const p = Math.round(scale.getPixelForValue(i*step)) + 0.5;
        if (hor){ ctx.moveTo(p,B); ctx.lineTo(p,B-len); ctx.moveTo(p,T); ctx.lineTo(p,T+len); }
        else { ctx.moveTo(L,p); ctx.lineTo(L+len,p); ctx.moveTo(R,p); ctx.lineTo(R-len,p); }
      }
      ctx.stroke();
    };
    tk(x, o.xMinor, 3.5, true); tk(x, o.xMajor, 7, true);
    tk(y, o.yMinor, 3.5, false); tk(y, o.yMajor, 7, false);
    ctx.restore();
  }
};
const annotPlugin = {
  id:'annot',
  afterDraw(chart, args, o){
    const ctx = chart.ctx, x = chart.scales.x, y = chart.scales.y;
    ctx.save(); ctx.fillStyle = '#151515'; ctx.strokeStyle = '#222';
    (o.lines||[]).forEach(l => {
      ctx.lineWidth = 0.9; ctx.beginPath();
      ctx.moveTo(x.getPixelForValue(l[0]), y.getPixelForValue(l[1]));
      ctx.lineTo(x.getPixelForValue(l[2]), y.getPixelForValue(l[3])); ctx.stroke();
    });
    (o.items||[]).forEach(it => {
      const px = x.getPixelForValue(it.x), py = y.getPixelForValue(it.y), s = it.size || 28;
      ctx.textAlign = 'left'; ctx.textBaseline = 'alphabetic';
      ctx.font = (it.upright ? '' : 'italic ') + s + 'px "Liberation Serif"';
      ctx.fillText(it.text, px, py);
      const w = ctx.measureText(it.text).width;
      const ss = Math.round(s*0.55);
      if (it.sub){ ctx.font = 'italic ' + ss + 'px "Liberation Serif"'; ctx.fillText(it.sub, px + w + 1, py + s*0.22); }
      if (it.sup){ ctx.font = 'italic ' + ss + 'px "Liberation Serif"'; ctx.fillText(it.sup, px + w + 2, py - s*0.48); }
    });
    ctx.restore();
  }
};

const isZero = v => Math.abs(v) < 1e-9;
const timeGrid = c => (c.tick && (isZero(c.tick.value) || Math.abs(c.tick.value-50) < 1e-9)) ? 'rgba(0,0,0,0)' : '#d9d9d9';
const zeroGrid = c => (c.tick && isZero(c.tick.value)) ? '#111' : '#d9d9d9';
const tickFont = {family:'"Liberation Sans", Arial, sans-serif', size:12};

function panel(id, F, type, datasets, cfg){
  const padL = 50, padT = 12, padR = cfg.padR || 22, padB = 28;
  const W = F.R - F.L + padL + padR, H = F.B - F.T + padT + padB;
  const div = document.getElementById(id);
  div.style.left = (F.L - padL) + 'px'; div.style.top = (F.T - padT) + 'px';
  div.style.width = W + 'px'; div.style.height = H + 'px';
  const cv = document.createElement('canvas');
  cv.width = W; cv.height = H; cv.style.width = W + 'px'; cv.style.height = H + 'px';
  div.appendChild(cv);
  new Chart(cv, {
    type: type,
    data: {datasets: datasets},
    options: {
      responsive:false, animation:false, devicePixelRatio:1,
      layout:{padding:{left:0, top:padT, right:padR, bottom:0}},
      plugins:{legend:{display:false}, tooltip:{enabled:false}, frameDeco:cfg.ticks, annot:cfg.annot},
      elements:{point:{radius:0}},
      scales:{
        x:{type:'linear', min:F.x[0], max:F.x[1],
           afterFit: s => { s.height = padB; s.paddingLeft = 0; s.paddingRight = 0; },
           border:{display:false},
           grid:{drawTicks:false, color:cfg.xGrid, lineWidth:1},
           ticks:{stepSize:cfg.xStep, includeBounds:false, padding:5, color:'#333', font:tickFont,
                  maxRotation:0, autoSkip:false, callback:cfg.xFmt}},
        y:{type:'linear', min:F.y[0], max:F.y[1],
           afterFit: s => { s.width = padL; s.paddingTop = 0; s.paddingBottom = 0; },
           border:{display:false},
           grid:{drawTicks:false, color:zeroGrid, lineWidth:1},
           ticks:{stepSize:cfg.yStep, includeBounds:false, padding:5, color:'#333', font:tickFont,
                  autoSkip:false, callback:cfg.yFmt}}
      }
    },
    plugins:[framePlugin, annotPlugin]
  });
}

const pts = arr => arr.map(p => ({x:p[0], y:p[1]}));
const line = (data, color, width, smooth) => ({data, borderColor:color, borderWidth:width, pointRadius:0, fill:false,
  tension:0, cubicInterpolationMode: smooth ? 'monotone' : 'default', borderJoinStyle:'round', borderCapStyle:'round'});
const fmt = d => v => Number(v).toFixed(d);
const fmtT = v => (timeTicks.indexOf(Math.round(v)) >= 0 ? String(Math.round(v)) : '');

// a)
panel('pa', FR.a, 'line', [
  line(tA.map((t,i)=>({x:t, y:x2A[i]})), COL.green, 3, true),
  line(tA.map((t,i)=>({x:t, y:x1A[i]})), COL.orange, 3, true)
], {xStep:10, yStep:0.2, xFmt:fmtT, yFmt:fmt(1), xGrid:timeGrid,
    ticks:{xMajor:10, xMinor:2, yMajor:0.2, yMinor:0.05},
    annot:{items:[
      {text:'x', sub:'2', x:11.5, y:0.276},
      {text:'x', sub:'1', x:5.35, y:0.175},
      {text:'t', x:49.2, y:-0.092},
      {text:'a)', upright:true, size:30, x:44.65, y:0.281}]}});

// b)
panel('pb', FR.b, 'line', [
  line(pts(x2B), COL.green, 3, true),
  line(pts(x1B), COL.orange, 3, true)
], {xStep:10, yStep:0.1, xFmt:fmtT, yFmt:fmt(1), xGrid:timeGrid,
    ticks:{xMajor:10, xMinor:2, yMajor:0.1, yMinor:0.02},
    annot:{items:[
      {text:'x', sub:'2', x:7.13, y:0.258},
      {text:'x', sub:'1', x:5.1, y:0.104},
      {text:'t', x:48.45, y:-0.075},
      {text:'b)', upright:true, size:30, x:46.5, y:0.232}]}});

// c)
panel('pc', FR.c, 'line', [
  line(pts(qC), COL.q, 2.5, true),
  line(pts(fC), COL.f, 2.5, true),
  line(pts(wC), COL.w, 4, false)
], {xStep:10, yStep:0.5, xFmt:fmtT, yFmt:fmt(1), xGrid:timeGrid,
    ticks:{xMajor:10, xMinor:2, yMajor:0.5, yMinor:0.1},
    annot:{lines:[[4.3,0.34,7.22,0.077]], items:[
      {text:'w', sup:'(2)', x:13.24, y:0.716},
      {text:'q', x:1.89, y:0.361},
      {text:'f', x:7.05, y:-0.624},
      {text:'t', x:49.77, y:-0.295},
      {text:'c)', upright:true, size:30, x:46.27, y:0.668}]}});

// d)
panel('pd', FR.d, 'line', [
  line(pts(qD), COL.q, 2.5, true),
  line(pts(fD), COL.f, 2.5, true),
  line(pts(wD), COL.w, 4, false)
], {xStep:10, yStep:0.5, xFmt:fmtT, yFmt:fmt(1), xGrid:timeGrid,
    ticks:{xMajor:10, xMinor:2, yMajor:0.5, yMinor:0.1},
    annot:{lines:[[3.98,0.18,5.03,0.055]], items:[
      {text:'w', sup:'(2)', x:13.1, y:0.753},
      {text:'q', x:2.54, y:0.225},
      {text:'f', x:7.4, y:-0.558},
      {text:'t', x:49.66, y:-0.282},
      {text:'d)', upright:true, size:30, x:46.0, y:0.687}]}});

// e) phase portrait x1 vs x2
panel('pe', FR.e, 'scatter', [
  Object.assign(line(tA.map((t,i)=>({x:x1A[i], y:x2A[i]})), COL.e, 2.5, false), {showLine:true, tension:0.35})
], {padR:36, xStep:0.1, yStep:0.2, xFmt:fmt(1), yFmt:fmt(1), xGrid:zeroGrid,
    ticks:{xMajor:0.1, xMinor:0.02, yMajor:0.2, yMinor:0.05},
    annot:{items:[
      {text:'x', sub:'2', x:0.011, y:0.424},
      {text:'x', sub:'1', x:0.208, y:0.011},
      {text:'e)', upright:true, size:30, x:0.143, y:0.409}]}});

// f)
panel('pf', FR.f, 'line', [
  line(pts(uF), COL.u, 3, true)
], {xStep:10, yStep:0.05, xFmt:fmtT, yFmt:fmt(2), xGrid:timeGrid,
    ticks:{xMajor:10, xMinor:2, yMajor:0.05, yMinor:0.01},
    annot:{items:[
      {text:'u', x:5.32, y:0.115},
      {text:'t', x:45.85, y:-0.018},
      {text:'f)', upright:true, size:30, x:46.2, y:0.111}]}});
</script>
</body></html>
